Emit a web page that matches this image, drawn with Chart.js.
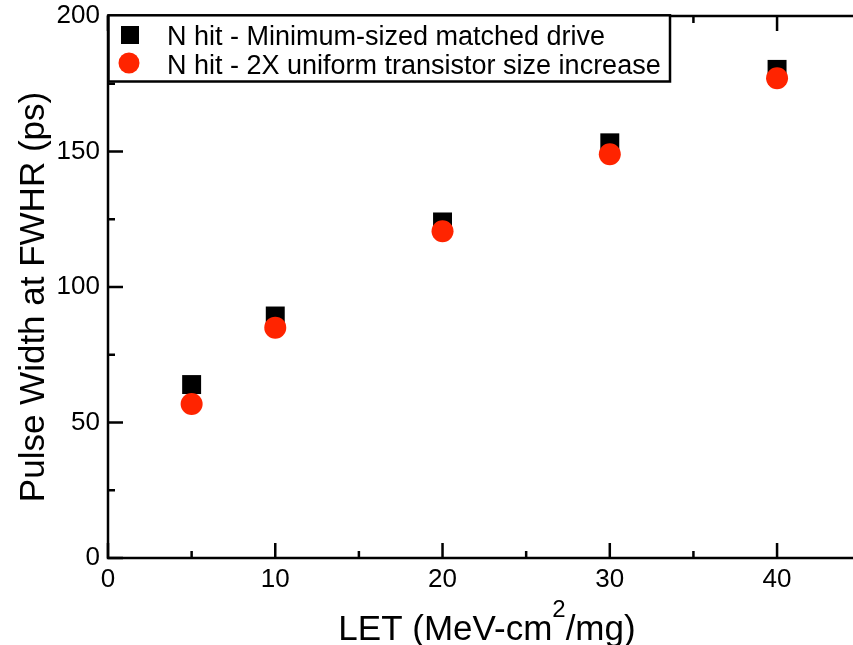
<!DOCTYPE html>
<html lang="en">
<head>
    <meta charset="UTF-8">
    <title>Pulse Width vs LET</title>
    <script src="https://cdn.jsdelivr.net/npm/chart.js"></script>
    <style>
        body { margin: 0; background: #fff; }
    </style>
</head>
<body>
    <canvas id="pulseChart" width="853" height="645"></canvas>

    <script>
        const letValues = [5, 10, 20, 30, 40];
        const minSizedWidth = [64, 89.3, 124, 153.2, 180.3];
        const upsizedWidth = [56.8, 85, 120.6, 149, 177];
        const seriesNames = ['N hit - Minimum-sized matched drive', 'N hit - 2X uniform transistor size increase'];
        const xTicks = [0, 5, 10, 15, 20, 25, 30, 35, 40];
        const yTicks = [0, 25, 50, 75, 100, 125, 150, 175, 200];
        const X_MAX = 44.54;

        const RED = '#ff2400';
        const FONT = '"Liberation Sans", Arial, sans-serif';

        // frame, inward ticks, axis titles and boxed legend
        const framePlugin = {
            id: 'frame',
            afterDraw(chart) {
                const ctx = chart.ctx;
                const { left, right, top, bottom } = chart.chartArea;
                const xs = chart.scales.x;
                const ys = chart.scales.y;

                ctx.save();
                ctx.strokeStyle = '#000';
                ctx.lineWidth = 2.5;
                ctx.beginPath();
                ctx.moveTo(right, top); ctx.lineTo(left, top); ctx.lineTo(left, bottom); ctx.lineTo(right, bottom);
                ctx.stroke();

                ctx.beginPath();
                xTicks.forEach(v => {
                    const px = xs.getPixelForValue(v);
                    const len = v % 10 === 0 ? 15 : 7;
                    ctx.moveTo(px, bottom); ctx.lineTo(px, bottom - len);
                    ctx.moveTo(px, top); ctx.lineTo(px, top + len);
                });
                yTicks.forEach(v => {
                    const py = ys.getPixelForValue(v);
                    const len = v % 50 === 0 ? 15 : 7;
                    ctx.moveTo(left, py); ctx.lineTo(left + len, py);
                });
                ctx.stroke();

                // axis titles
                ctx.fillStyle = '#000';
                ctx.textBaseline = 'alphabetic';
                const partA = 'LET (MeV-cm';
                const partB = '/mg)';
                ctx.font = '35px ' + FONT;
                const wA = ctx.measureText(partA).width;
                const wB = ctx.measureText(partB).width;
                ctx.font = '24px ' + FONT;
                const wSup = ctx.measureText('2').width;
                const tx = 487 - (wA + wSup + wB) / 2;
                ctx.font = '35px ' + FONT;
                ctx.fillText(partA, tx, 640);
                ctx.font = '24px ' + FONT;
                ctx.fillText('2', tx + wA, 617);
                ctx.font = '35px ' + FONT;
                ctx.fillText(partB, tx + wA + wSup, 640);

                ctx.save();
                ctx.translate(44, 297);
                ctx.rotate(-Math.PI / 2);
                ctx.font = '35px ' + FONT;
                ctx.textAlign = 'center';
                ctx.fillText('Pulse Width at FWHR (ps)', 0, 0);
                ctx.restore();

                // legend
                ctx.fillStyle = '#fff';
                ctx.fillRect(108.5, 15.3, 561.5, 66.2);
                ctx.lineWidth = 2.5;
                ctx.strokeRect(108.5, 15.3, 561.5, 66.2);
                ctx.fillStyle = '#000';
                ctx.fillRect(121, 26, 18, 18);
                ctx.beginPath();
                ctx.arc(129, 63, 10.5, 0, Math.PI * 2);
                ctx.fillStyle = RED;
                ctx.fill();
                ctx.fillStyle = '#000';
                ctx.font = '27px ' + FONT;
                ctx.textAlign = 'left';
                ctx.fillText(seriesNames[0], 167, 45);
                ctx.fillText(seriesNames[1], 167, 73.5);
                ctx.restore();
            }
        };

        const chart = new Chart(document.getElementById('pulseChart'), {
            type: 'scatter',
            data: {
                datasets: [
                    {
                        label: seriesNames[0],
                        data: letValues.map((x, i) => ({ x, y: minSizedWidth[i] })),
                        pointStyle: 'rect',
                        pointRadius: 13.4,
                        backgroundColor: '#000',
                        borderWidth: 0,
                        order: 1
                    },
                    {
                        label: seriesNames[1],
                        data: letValues.map((x, i) => ({ x, y: upsizedWidth[i] })),
                        pointStyle: 'circle',
                        pointRadius: 11,
                        backgroundColor: RED,
                        borderWidth: 0,
                        order: 0
                    }
                ]
            },
            options: {
                responsive: false,
                animation: false,
                layout: { autoPadding: false, padding: { top: 16, right: 0, left: 0, bottom: 0 } },
                plugins: {
                    legend: { display: false },
                    tooltip: { enabled: false }
                },
                scales: {
                    x: {
                        type: 'linear',
                        min: 0,
                        max: X_MAX,
                        grid: { display: false, drawTicks: false },
                        border: { display: false },
                        afterBuildTicks: s => { s.ticks = xTicks.map(v => ({ value: v })); },
                        afterFit: s => { s.height = 87; s.paddingLeft = 0; s.paddingRight = 0; },
                        ticks: {
                            padding: 6,
                            color: '#000',
                            maxRotation: 0,
                            font: { family: FONT, size: 26 },
                            callback: v => (v % 10 === 0 ? String(v) : '')
                        }
                    },
                    y: {
                        min: 0,
                        max: 200,
                        grid: { display: false, drawTicks: false },
                        border: { display: false },
                        afterBuildTicks: s => { s.ticks = yTicks.map(v => ({ value: v })); },
                        // labels may overhang the plot top; keep the plot edge at the padding
                        afterFit: s => { s.width = 108; s.paddingTop = 0; s.paddingBottom = 0; },
                        ticks: {
                            padding: 8,
                            color: '#000',
                            font: { family: FONT, size: 26 },
                            callback: v => (v % 50 === 0 ? String(v) : '')
                        }
                    }
                }
            },
            plugins: [framePlugin]
        });
    </script>
</body>
</html>
